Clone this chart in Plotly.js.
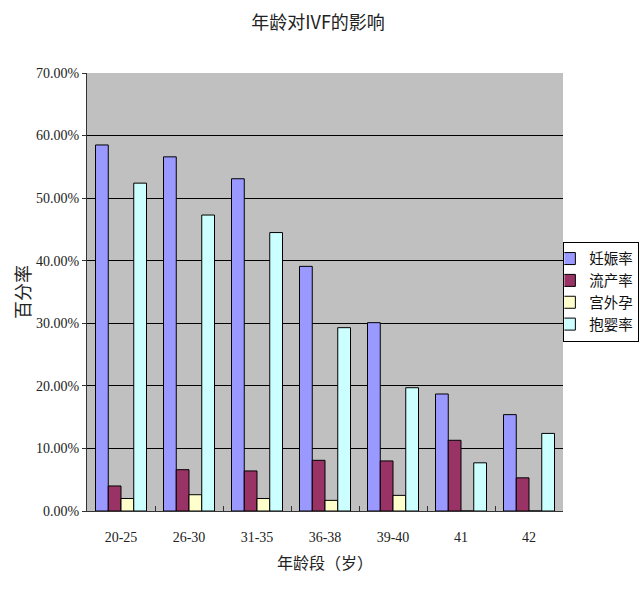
<!DOCTYPE html>
<html>
<head>
<meta charset="utf-8">
<script src="https://cdn.plot.ly/plotly-3.0.1.min.js"></script>
<style>
  html, body { margin: 0; padding: 0; background: #fff; }
  #chart { width: 640px; height: 598px; }
</style>
</head>
<body>
<div id="chart"></div>
<script>
// Age groups and rates (percent)
const ageGroups = ['20-25', '26-30', '31-35', '36-38', '39-40', '41', '42'];
const pregnancyRate = [58.5, 56.6, 53.1, 39.1, 30.1, 18.7, 15.4];
const miscarriageRate = [4.0, 6.6, 6.4, 8.1, 8.0, 11.3, 5.3];
const ectopicRate = [2.0, 2.6, 2.0, 1.7, 2.5, 0, 0];
const babyRate = [52.4, 47.3, 44.5, 29.3, 19.7, 7.7, 12.4];

const seriesNames = ['妊娠率', '流产率', '宫外孕', '抱婴率'];
const seriesColors = ['#9999ff', '#993366', '#ffffcc', '#ccffff'];
const seriesValues = [pregnancyRate, miscarriageRate, ectopicRate, babyRate];

const cjk = '"Noto Sans CJK SC", "Noto Sans", sans-serif';
const num = '"Liberation Serif", "DejaVu Serif", serif';

const traces = seriesValues.map((vals, i) => ({
  type: 'bar',
  name: seriesNames[i],
  x: ageGroups,
  y: vals,
  marker: { color: seriesColors[i], line: { color: '#000', width: 1 } },
  hoverinfo: 'x+y+name',
}));

const layout = {
  width: 640,
  height: 598,
  paper_bgcolor: '#ffffff',
  plot_bgcolor: '#c0c0c0',
  margin: { l: 87, r: 77, t: 73, b: 87, autoexpand: false },
  barmode: 'group',
  bargap: 0.25,
  bargroupgap: 0,
  title: {
    text: '年龄对IVF的影响',
    font: { family: cjk, size: 18, color: '#222' },
    x: 0.497, xanchor: 'center',
    y: 0.962, yanchor: 'middle',
  },
  xaxis: {
    type: 'category',
    showline: true, linecolor: '#333', linewidth: 1,
    ticks: 'inside', tickson: 'boundaries', ticklen: 5, tickcolor: '#333',
    showgrid: false,
    ticklabelstandoff: 13,
    tickfont: { family: num, size: 14, color: '#222' },
    title: { text: '年龄段（岁）', font: { family: cjk, size: 16, color: '#222' }, standoff: 14 },
  },
  yaxis: {
    range: [0, 70],
    dtick: 10,
    tickformat: '.2f', ticksuffix: '%',
    showline: true, linecolor: '#333', linewidth: 1,
    ticks: 'outside', ticklen: 4, tickcolor: '#333',
    gridcolor: '#000', gridwidth: 1,
    zeroline: false,
    tickfont: { family: num, size: 14, color: '#222' },
    title: { text: '百分率', font: { family: cjk, size: 18, color: '#222' }, standoff: 0 },
  },
  legend: {
    xref: 'container', x: 0.999, xanchor: 'right',
    y: 0.615, yanchor: 'top',
    bgcolor: '#ffffff',
    bordercolor: '#000', borderwidth: 1,
    font: { family: cjk, size: 14.5, color: '#111' },
    tracegroupgap: 0,
    itemwidth: 30,
    indentation: -15,
  },
};

Plotly.newPlot('chart', traces, layout, { displayModeBar: false, staticPlot: true });
</script>
</body>
</html>
